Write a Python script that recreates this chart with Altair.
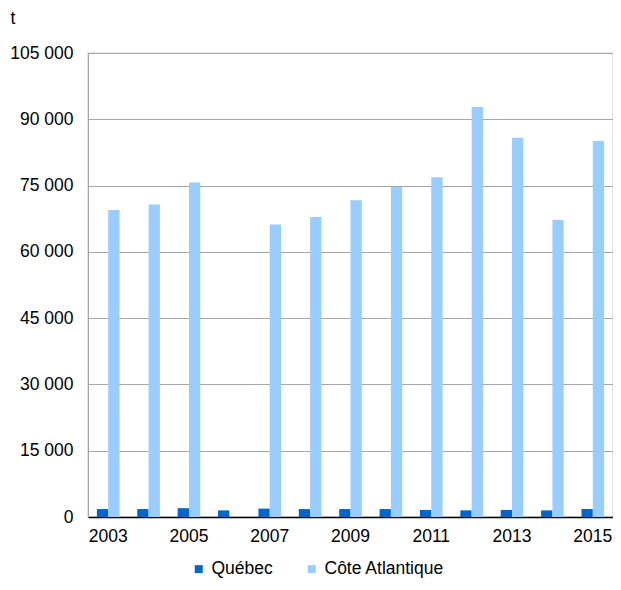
import altair as alt
import pandas as pd

years = [str(y) for y in range(2003, 2016)]
quebec = [1800, 1800, 2000, 1500, 1900, 1800, 1800, 1800, 1600, 1500, 1600, 1500, 1800]
cote = [69500, 70700, 75700, None, 66200, 67900, 71700, 74700, 76900, 92800, 85800, 67200, 85100]
series = ["Québec", "Côte Atlantique"]
colors = ["#0066CC", "#99CCFF"]

rows = []
for i, y in enumerate(years):
    rows.append({"year": y, "series": series[0], "value": quebec[i], "order": 0})
    if cote[i] is not None:
        rows.append({"year": y, "series": series[1], "value": cote[i], "order": 1})
df = pd.DataFrame(rows)

font = "Liberation Sans"
fs = 17.5

chart = alt.Chart(df).mark_bar().encode(
    x=alt.X("year:N", sort=years,
            scale=alt.Scale(paddingInner=0.44, paddingOuter=0.22),
            axis=alt.Axis(title=None, labelAngle=0, ticks=False, domainColor="#000000",
                          domainWidth=1.5, labelFontSize=fs, labelFont=font, labelColor="#000000",
                          labelPadding=10,
                          labelExpr="parseInt(datum.value) % 2 == 1 ? datum.value : ''")),
    xOffset=alt.XOffset("series:N", sort=series),
    y=alt.Y("value:Q",
            scale=alt.Scale(domain=[0, 105000], nice=False),
            axis=alt.Axis(values=list(range(0, 105001, 15000)), ticks=False,
                          domainColor="#A6A6A6", gridColor="#A6A6A6", gridWidth=1.2,
                          labelFontSize=fs, labelFont=font, labelColor="#000000", labelPadding=15,
                          labelExpr="replace(format(datum.value, ','), ',', ' ')",
                          title="t", titleAngle=0, titleX=-78, titleY=-30, titleAlign="left",
                          titleBaseline="alphabetic", titleFontSize=fs, titleFontWeight="normal",
                          titleFont=font, titleColor="#000000")),
    color=alt.Color("series:N", sort=series,
                    scale=alt.Scale(domain=series, range=colors),
                    legend=alt.Legend(title=None, orient="none", direction="horizontal",
                                      legendX=102, legendY=507, symbolType="square",
                                      symbolSize=64, symbolStrokeWidth=0, labelFontSize=fs,
                                      labelFont=font, labelColor="#000000", labelOffset=4,
                                      columnPadding=30)),
).properties(
    width=525, height=464,
    autosize=alt.AutoSizeParams(type="none"),
    padding={"left": 80, "top": 45, "right": 0, "bottom": 64},
).configure_view(stroke="#A6A6A6", strokeWidth=1.2)

chart.save("out.html", embed_options={"renderer": "svg", "actions": False})
